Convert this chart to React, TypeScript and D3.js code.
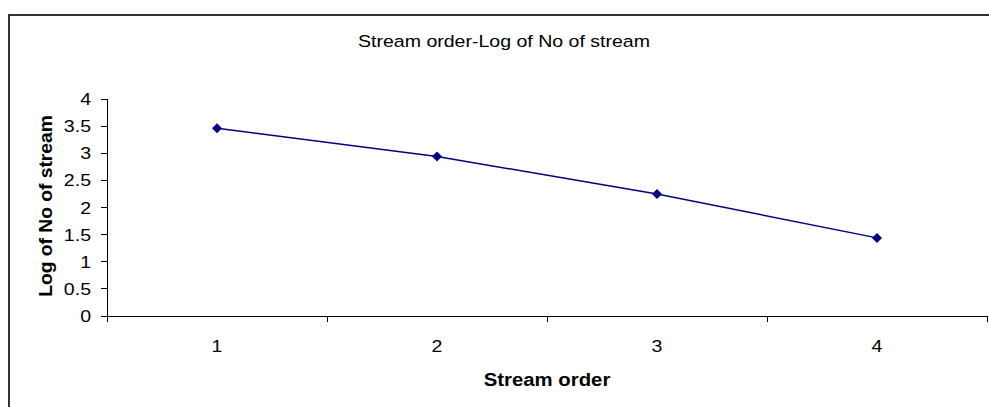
import * as d3 from 'd3'
import { useEffect, useRef } from 'react'

// stream order vs log of number of streams
const streamOrders = ['1', '2', '3', '4']
const logNoOfStream = [3.46, 2.94, 2.25, 1.44]
const yTicks = [0, 0.5, 1, 1.5, 2, 2.5, 3, 3.5, 4]

const W = 989
const H = 407
const FONT = 'Arial, "Liberation Sans", Helvetica, sans-serif'
const SX = 1.15 // source text renders a little wide

export default function App() {
  const ref = useRef<SVGSVGElement>(null)

  useEffect(() => {
    const svg = d3.select(ref.current)
    svg.selectAll('*').remove()

    const left = 107
    const right = 987
    const top = 99
    const bottom = 316

    // chart area frame (right and bottom edges are cut off in the source)
    svg.append('rect')
      .attr('x', 9)
      .attr('y', 15)
      .attr('width', W + 20)
      .attr('height', H + 20)
      .attr('fill', '#fff')
      .attr('stroke', '#000')
      .attr('stroke-width', 1.6)

    const x = d3.scaleBand<string>()
      .domain(streamOrders)
      .range([left, right])
      .padding(0)

    const y = d3.scaleLinear()
      .domain([0, 4])
      .range([bottom, top])

    const g = svg.append('g')

    // y axis
    g.append('line')
      .attr('x1', left).attr('x2', left)
      .attr('y1', y(4)).attr('y2', y(0))
      .attr('stroke', '#000').attr('stroke-width', 1)
      .attr('shape-rendering', 'crispEdges')

    g.selectAll('.ytick')
      .data(yTicks)
      .enter().append('line')
      .attr('x1', left - 6).attr('x2', left)
      .attr('y1', d => y(d)).attr('y2', d => y(d))
      .attr('stroke', '#000')
      .attr('shape-rendering', 'crispEdges')

    g.selectAll('.ylab')
      .data(yTicks)
      .enter().append('text')
      .attr('transform', d => `translate(91,${y(d) + 6}) scale(${SX},1)`)
      .attr('text-anchor', 'end')
      .attr('font-family', FONT)
      .attr('font-size', 17)
      .attr('fill', '#000')
      .text(d => String(d))

    // x axis
    g.append('line')
      .attr('x1', left).attr('x2', right + 1)
      .attr('y1', bottom).attr('y2', bottom)
      .attr('stroke', '#000').attr('stroke-width', 1)
      .attr('shape-rendering', 'crispEdges')

    const xEdges = streamOrders.map(d => x(d) as number).concat([right])
    g.selectAll('.xtick')
      .data(xEdges)
      .enter().append('line')
      .attr('x1', d => d).attr('x2', d => d)
      .attr('y1', bottom).attr('y2', bottom + 6)
      .attr('stroke', '#000')
      .attr('shape-rendering', 'crispEdges')

    g.selectAll('.xlab')
      .data(streamOrders)
      .enter().append('text')
      .attr('transform', d => `translate(${(x(d) as number) + x.bandwidth() / 2},351.5) scale(${SX},1)`)
      .attr('text-anchor', 'middle')
      .attr('font-family', FONT)
      .attr('font-size', 17)
      .attr('fill', '#000')
      .text(d => d)

    // series
    const pts = streamOrders.map((d, i) => [
      (x(d) as number) + x.bandwidth() / 2,
      y(logNoOfStream[i])
    ] as [number, number])

    g.append('path')
      .attr('d', d3.line()(pts))
      .attr('fill', 'none')
      .attr('stroke', '#000080')
      .attr('stroke-width', 1.5)

    const diamond = d3.symbol().type(d3.symbolSquare).size(50)
    g.selectAll('.pt')
      .data(pts)
      .enter().append('path')
      .attr('d', diamond)
      .attr('transform', d => `translate(${d[0]},${d[1]}) rotate(45)`)
      .attr('fill', '#000080')

    // titles
    svg.append('text')
      .attr('transform', `translate(504,47) scale(${SX},1)`)
      .attr('text-anchor', 'middle')
      .attr('font-family', FONT)
      .attr('font-size', 17)
      .attr('fill', '#000')
      .text('Stream order-Log of No of stream')

    svg.append('text')
      .attr('transform', `translate(547,385.5) scale(1.1,1)`)
      .attr('text-anchor', 'middle')
      .attr('font-family', FONT)
      .attr('font-size', 18.5)
      .attr('font-weight', 'bold')
      .attr('fill', '#000')
      .text('Stream order')

    svg.append('text')
      .attr('transform', `translate(51.5,206) rotate(-90) scale(1.04,1)`)
      .attr('text-anchor', 'middle')
      .attr('font-family', FONT)
      .attr('font-size', 18.5)
      .attr('font-weight', 'bold')
      .attr('fill', '#000')
      .text('Log of No of stream')
  }, [])

  return (
    <svg
      ref={ref}
      width={W}
      height={H}
      style={{ position: 'absolute', left: 0, top: 0, background: '#fff' }}
    />
  )
}
